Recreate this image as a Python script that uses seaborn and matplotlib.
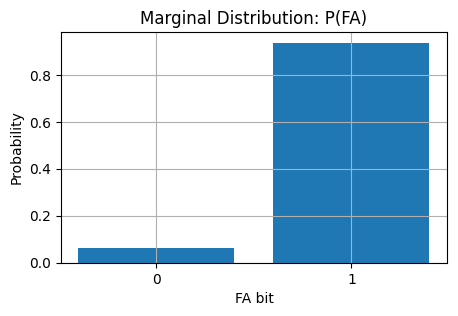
import matplotlib
matplotlib.use("Agg")
import matplotlib.pyplot as plt
import seaborn as sns
import pandas as pd

fa_bits = ["0", "1"]
probabilities = [0.063, 0.937]

df = pd.DataFrame({"FA bit": fa_bits, "Probability": probabilities})

fig, ax = plt.subplots(figsize=(4.58, 3.16), dpi=100)
fig.subplots_adjust(left=0.133, right=0.976, bottom=0.168, top=0.899)

sns.barplot(x="FA bit", y="Probability", data=df, color="#1f77b4",
            saturation=1, width=0.8, ax=ax)

ax.set_xlim(-0.49, 1.49)
ax.set_title("Marginal Distribution: P(FA)")
ax.set_xlabel("FA bit")
ax.set_ylabel("Probability")
ax.grid(True)

fig.savefig("out.png", dpi=100)
